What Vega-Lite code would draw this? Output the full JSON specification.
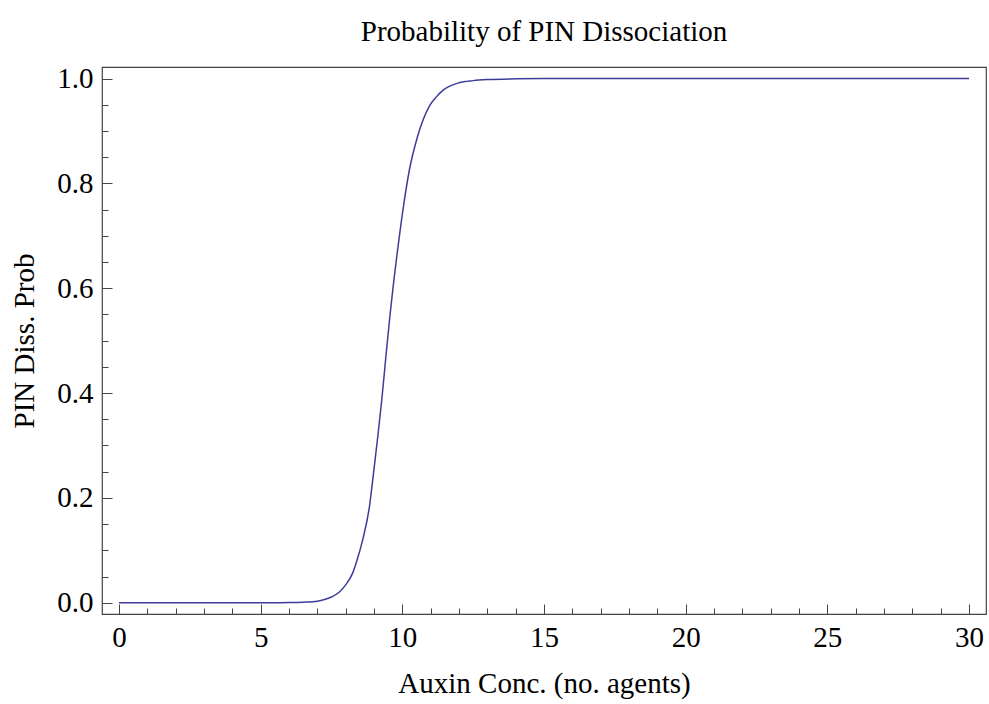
{
  "$schema": "https://vega.github.io/schema/vega-lite/v6.json",
  "width": 884,
  "height": 547,
  "autosize": "none",
  "padding": {"left": 102, "top": 67, "right": 3, "bottom": 90},
  "background": "white",
  "title": {
    "text": "Probability of PIN Dissociation",
    "font": "Liberation Serif",
    "fontSize": 29,
    "fontWeight": "normal",
    "color": "black",
    "anchor": "middle",
    "baseline": "bottom",
    "offset": 22,
    "dy": 33
  },
  "config": {
    "view": {"stroke": "#444", "strokeWidth": 1.2}
  },
  "data": {
    "values": [
      {"auxin": 0, "prob": 0},
      {"auxin": 1, "prob": 0},
      {"auxin": 2, "prob": 0},
      {"auxin": 3, "prob": 0},
      {"auxin": 4, "prob": 0},
      {"auxin": 5, "prob": 0},
      {"auxin": 6, "prob": 0.0003},
      {"auxin": 6.5, "prob": 0.001},
      {"auxin": 7, "prob": 0.003},
      {"auxin": 7.25, "prob": 0.006},
      {"auxin": 7.5, "prob": 0.011},
      {"auxin": 7.77, "prob": 0.02},
      {"auxin": 8, "prob": 0.034},
      {"auxin": 8.25, "prob": 0.057},
      {"auxin": 8.4, "prob": 0.081},
      {"auxin": 8.6, "prob": 0.12},
      {"auxin": 8.83, "prob": 0.18},
      {"auxin": 9.0, "prob": 0.255},
      {"auxin": 9.14, "prob": 0.32},
      {"auxin": 9.28, "prob": 0.39},
      {"auxin": 9.42, "prob": 0.47},
      {"auxin": 9.56, "prob": 0.546},
      {"auxin": 9.7, "prob": 0.615},
      {"auxin": 9.84, "prob": 0.676},
      {"auxin": 10.05, "prob": 0.76},
      {"auxin": 10.25, "prob": 0.826},
      {"auxin": 10.54, "prob": 0.89},
      {"auxin": 10.95, "prob": 0.947},
      {"auxin": 11.2, "prob": 0.965},
      {"auxin": 11.42, "prob": 0.977},
      {"auxin": 12.0, "prob": 0.992},
      {"auxin": 12.5, "prob": 0.996},
      {"auxin": 13.0, "prob": 0.998},
      {"auxin": 14, "prob": 0.9995},
      {"auxin": 15, "prob": 1},
      {"auxin": 20, "prob": 1},
      {"auxin": 25, "prob": 1},
      {"auxin": 30, "prob": 1}
    ]
  },
  "mark": {"type": "line", "color": "#3d3d99", "strokeWidth": 1.5, "interpolate": "monotone", "clip": true},
  "encoding": {
    "x": {
      "field": "auxin",
      "type": "quantitative",
      "scale": {"domain": [-0.6, 30.6], "nice": false, "zero": false},
      "axis": {
        "title": "Auxin Conc. (no. agents)",
        "titleFont": "Liberation Serif",
        "titleFontSize": 29,
        "titleFontWeight": "normal",
        "titleColor": "black",
        "titlePadding": 13,
        "values": [0,1,2,3,4,5,6,7,8,9,10,11,12,13,14,15,16,17,18,19,20,21,22,23,24,25,26,27,28,29,30],
        "labelExpr": "datum.value % 5 == 0 ? datum.label : ''",
        "labelFont": "Liberation Serif",
        "labelFontSize": 29,
        "labelColor": "black",
        "labelOverlap": false,
        "labelFlush": false,
        "labelBound": false,
        "labelPadding": 19,
        "domain": false,
        "grid": false,
        "tickColor": "#444",
        "tickWidth": 1,
        "tickSize": {"condition": {"test": "datum.value % 5 == 0", "value": -10}, "value": -6}
      }
    },
    "y": {
      "field": "prob",
      "type": "quantitative",
      "scale": {"domain": [-0.0215, 1.022], "nice": false, "zero": false},
      "axis": {
        "title": "PIN Diss. Prob",
        "titleFont": "Liberation Serif",
        "titleFontSize": 29,
        "titleFontWeight": "normal",
        "titleColor": "black",
        "titlePadding": 17,
        "values": [0,0.05,0.1,0.15,0.2,0.25,0.3,0.35,0.4,0.45,0.5,0.55,0.6,0.65,0.7,0.75,0.8,0.85,0.9,0.95,1.0],
        "format": ".1f",
        "labelExpr": "round(datum.value*20) % 4 == 0 ? datum.label : ''",
        "labelFont": "Liberation Serif",
        "labelFontSize": 29,
        "labelColor": "black",
        "labelOverlap": false,
        "labelFlush": false,
        "labelBound": false,
        "labelPadding": 19,
        "domain": false,
        "grid": false,
        "tickColor": "#444",
        "tickWidth": 1,
        "tickSize": {"condition": {"test": "round(datum.value*20) % 4 == 0", "value": -10}, "value": -6}
      }
    }
  }
}
